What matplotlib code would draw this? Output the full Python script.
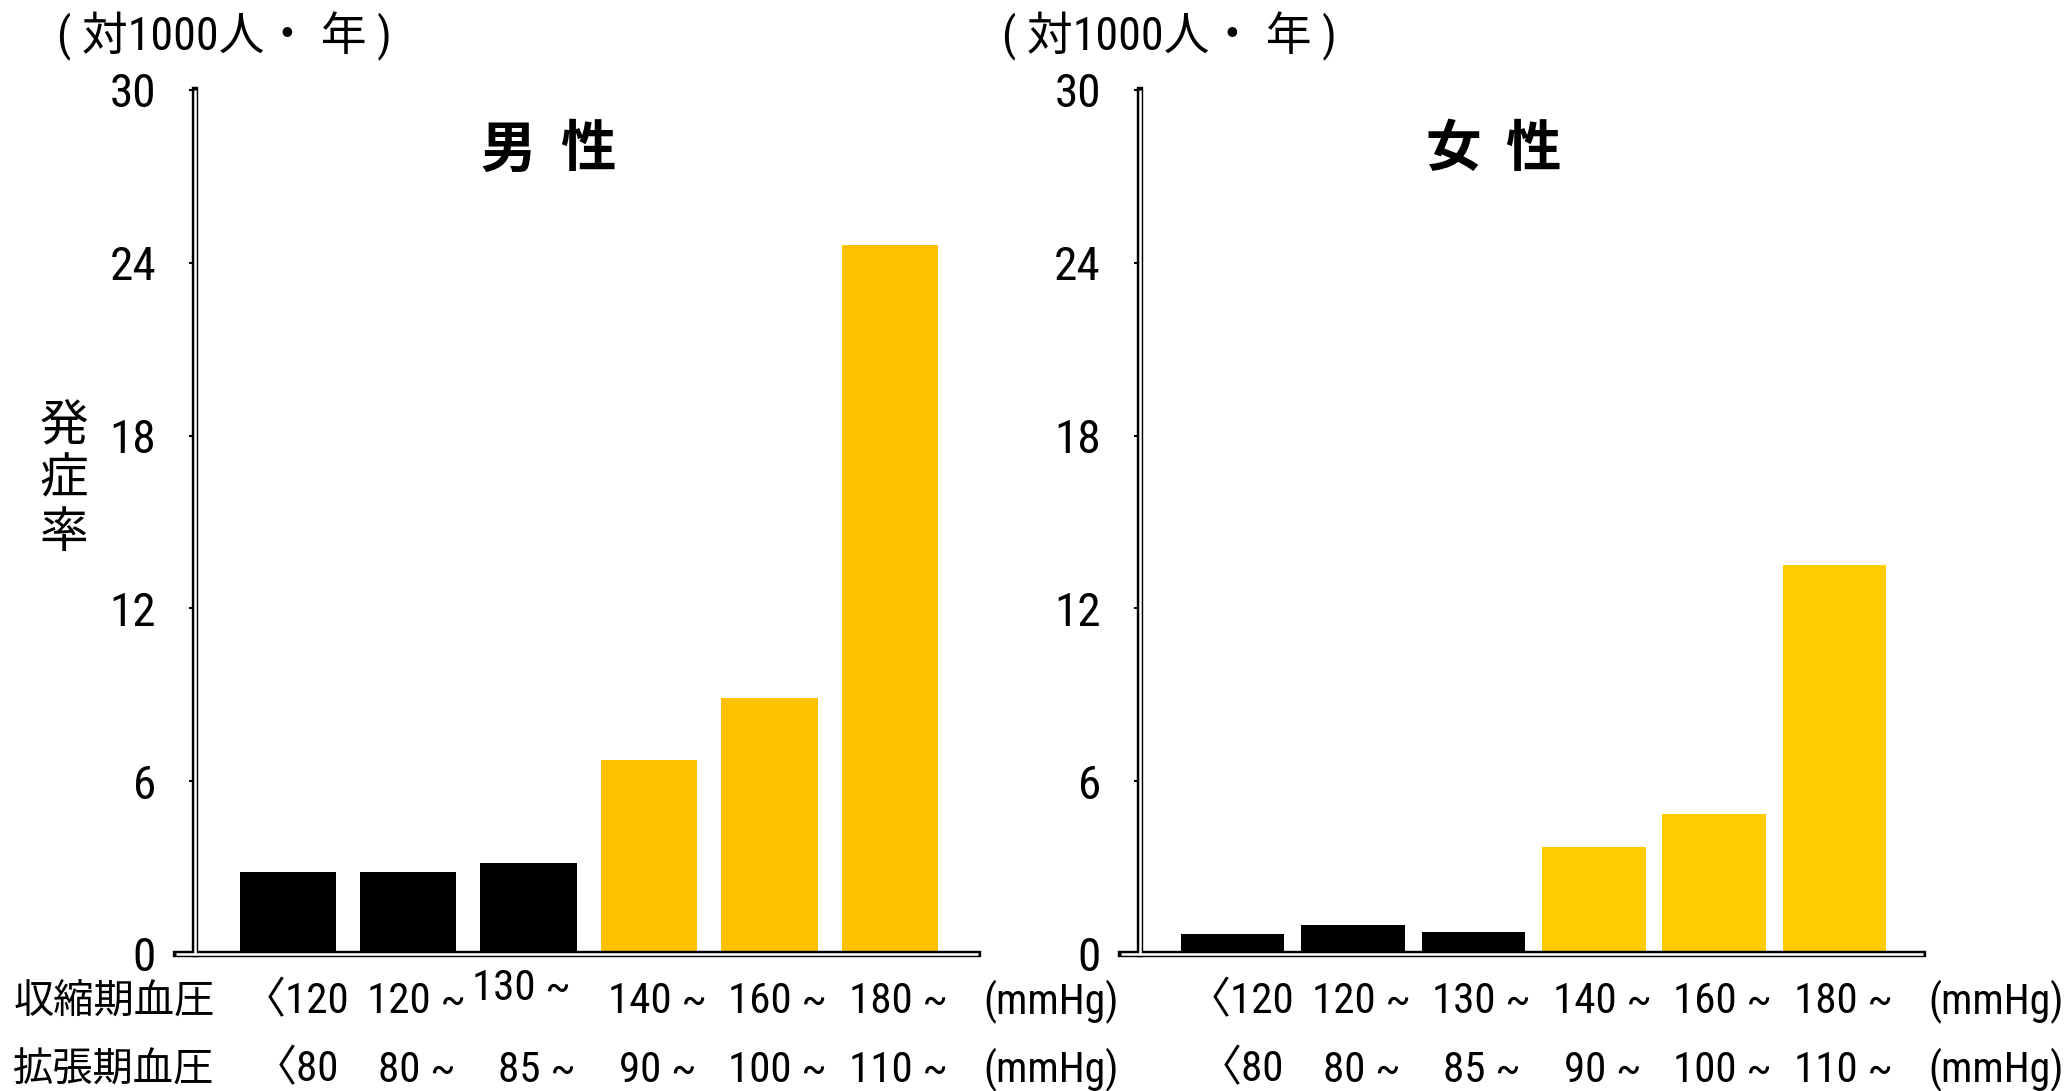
import matplotlib
matplotlib.use("Agg")
import matplotlib.pyplot as plt
import matplotlib.transforms as mtrans
from matplotlib import font_manager

# data (incidence per 1000 person-years)
sys_labels = ["〈120", "120 ~", "130 ~", "140 ~", "160 ~", "180 ~"]
dia_labels = ["〈80", "80 ~", "85 ~", "90 ~", "100 ~", "110 ~"]
men_rate = [2.85, 2.85, 3.15, 6.75, 8.9, 24.6]
women_rate = [0.7, 1.0, 0.75, 3.7, 4.85, 13.5]
bar_kind = ["normal", "normal", "normal", "high", "high", "high"]
yticks = [0, 6, 12, 18, 24, 30]

names = {f.name for f in font_manager.fontManager.ttflist}
num_font = "Liberation Sans"
for cand in ["Liberation Sans Narrow", "Roboto Condensed", "DejaVu Sans Condensed"]:
    if cand in names:
        num_font = cand
        break
FAM = [num_font, "Noto Sans CJK JP", "DejaVu Sans"]
CJK = ["Noto Sans CJK JP", "DejaVu Sans"]
plt.rcParams["font.family"] = FAM

fig = plt.figure(figsize=(20.72, 10.91), dpi=100)
fig.patch.set_facecolor("white")

panels = [
    (0.0848, men_rate, "#FFC000", 0.80, "男", "性", 0.1084),
    (0.5408, women_rate, "#FFCC00", 0.86, "女", "性", 0.5644),
]

for left, rates, yel, bw, t1, t2, unit_x in panels:
    ax = fig.add_axes([left, 0.1256, 0.3871, 0.792])
    xs = list(range(len(rates)))
    colors = ["black" if k == "normal" else yel for k in bar_kind]
    ax.bar(xs, rates, width=bw, color=colors, zorder=1)
    ax.set_xlim(-0.93, 5.73)
    ax.set_ylim(0, 30)

    # hollow double-line axes
    for side in ["top", "right"]:
        ax.spines[side].set_visible(False)
    ax.spines["left"].set_position(("data", -0.77))
    ax.spines["left"].set_bounds(0, 30)
    for side in ["left", "bottom"]:
        ax.spines[side].set_linewidth(4.6)
        ax.spines[side].set_color("black")
        ax.spines[side].set_zorder(3)
    ax.plot([-0.77, -0.77], [0, 30], color="white", lw=1.8, zorder=4, clip_on=False,
            solid_capstyle="butt")
    ax.plot([-0.93, 5.73], [0, 0], color="white", lw=1.8, zorder=4, clip_on=False,
            solid_capstyle="butt")

    ax.set_xticks([])
    ax.set_yticks(yticks)
    ax.set_yticklabels([str(t) for t in yticks])
    ax.tick_params(axis="y", direction="out", length=4, width=1.5, pad=24, labelsize=34)
    for lab in ax.get_yticklabels():
        lab.set_family(FAM)

    ax.text(1.83, 27.9, t1, ha="center", va="center", fontsize=40,
            fontweight="bold", family=CJK)
    ax.text(2.49, 27.9, t2, ha="center", va="center", fontsize=40,
            fontweight="bold", family=CJK)
    fig.text(unit_x, 0.967, "( 対1000人・ 年 )", ha="center", va="center",
             fontsize=33, family=FAM)

    tr = mtrans.blended_transform_factory(ax.transData, fig.transFigure)
    for i in xs:
        y1 = 0.0819
        dx = 0.07
        if left < 0.5 and i == 2:
            y1 = 0.094  # raised in the original
            dx = -0.06
        ax.text(i + dx, y1, sys_labels[i], transform=tr, ha="center", va="center",
                fontsize=31, family=FAM)
        ax.text(i + 0.07, 0.0191, dia_labels[i], transform=tr, ha="center",
                va="center", fontsize=31, family=FAM)
    ax.text(6.9, 0.0819, "(mmHg)", transform=tr, ha="right", va="center",
            fontsize=30, family=FAM)
    ax.text(6.9, 0.0191, "(mmHg)", transform=tr, ha="right", va="center",
            fontsize=30, family=FAM)

fig.text(0.055, 0.0819, "収縮期血圧", ha="center", va="center", fontsize=29, family=CJK)
fig.text(0.055, 0.0191, "拡張期血圧", ha="center", va="center", fontsize=29, family=CJK)
fig.text(0.0307, 0.56, "発\n症\n率", ha="center", va="center", fontsize=35,
         linespacing=1.1, family=CJK)

fig.savefig("out.png", dpi=100, facecolor="white")
